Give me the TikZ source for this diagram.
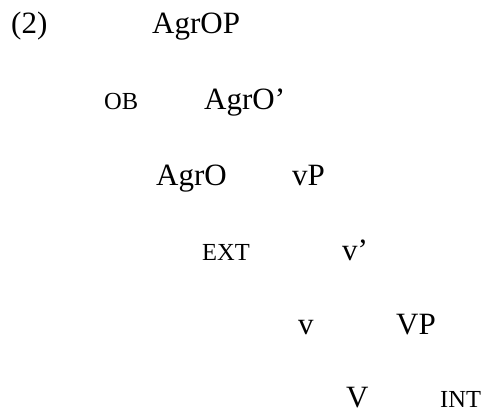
\documentclass[tikz,border=0pt]{standalone}
\usepackage{fontspec}
\setmainfont{Liberation Serif}
\begin{document}
\begin{tikzpicture}[
			x=1pt, y=-1pt,
			lab/.style={anchor=base west, inner sep=0pt, font=\fontsize{31}{31}\selectfont},
			sclab/.style={anchor=base west, inner sep=0pt, font=\fontsize{24.5}{24.5}\selectfont}
		]
		\useasboundingbox (0,0) rectangle (486,414);
		\node[lab] (num) at (11,34) {(2)};
		\node[lab] (agrop) at (152,34) {AgrOP};
		\node[sclab] (ob) at (104,110) {OB};
		\node[lab] (agrobar) at (204,110) {AgrO’};
		\node[lab] (agro) at (156,185) {AgrO};
		\node[lab] (vp) at (292,185) {vP};
		\node[sclab] (ext) at (202,260) {EXT};
		\node[lab] (vbar) at (342,260) {v’};
		\node[lab] (v) at (298,334) {v};
		\node[lab] (bigvp) at (396,334) {VP};
		\node[lab] (bigv) at (346,407) {V};
		\node[sclab] (int) at (440,407) {INT};
	\end{tikzpicture}
\end{document}
